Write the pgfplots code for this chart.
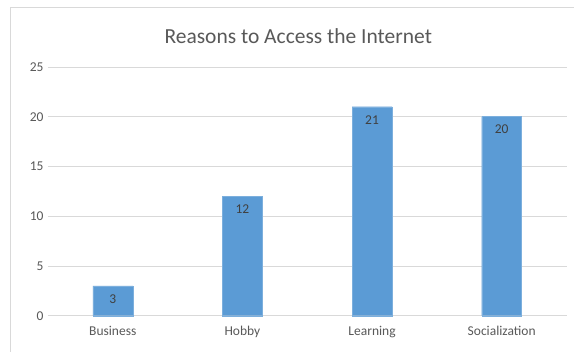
\documentclass[border=0pt]{standalone}
\usepackage{pgfplots}
\pgfplotsset{compat=1.18}
\usepackage{fontspec}
\setmainfont{Carlito}
\definecolor{barblue}{HTML}{5B9BD5}
\definecolor{txtgray}{HTML}{595959}
\definecolor{gridgray}{HTML}{D9D9D9}
\begin{document}
\begin{tikzpicture}[x=1pt,y=1pt]
\fill[white] (0,0) rectangle (574,352);
\draw[gridgray, line width=1pt] (11,0) -- (11,344) -- (574,344);
\node[text=txtgray, font=\fontsize{21.5}{24}\selectfont] at (298.5,316) {Reasons to Access the Internet};
\begin{axis}[
  at={(48pt,36pt)}, anchor=south west,
  scale only axis, width=519pt, height=249pt,
  xmin=-0.5, xmax=3.5, ymin=0, ymax=25,
  ytick={0,5,...,25},
  xtick=data,
  xticklabels={Business,Hobby,Learning,Socialization},
  axis line style={draw=none},
  tick style={draw=none},
  ymajorgrids, grid style={gridgray, line width=0.8pt},
  ticklabel style={text=txtgray, font=\fontsize{13.5}{15}\selectfont},
  /pgf/number format/assume math mode=true,
  yticklabel style={xshift=-1pt},
  xticklabel style={yshift=-7pt},
  clip=false,
]
\addplot[ybar, bar width=40pt, fill=barblue, draw=barblue!80!white,
  nodes near coords,
  every node near coord/.append style={anchor=north, yshift=-5pt, text=black!75, font=\fontsize{13.5}{15}\selectfont},
] coordinates {(0,3) (1,12) (2,21) (3,20)};
\end{axis}
\end{tikzpicture}
\end{document}
